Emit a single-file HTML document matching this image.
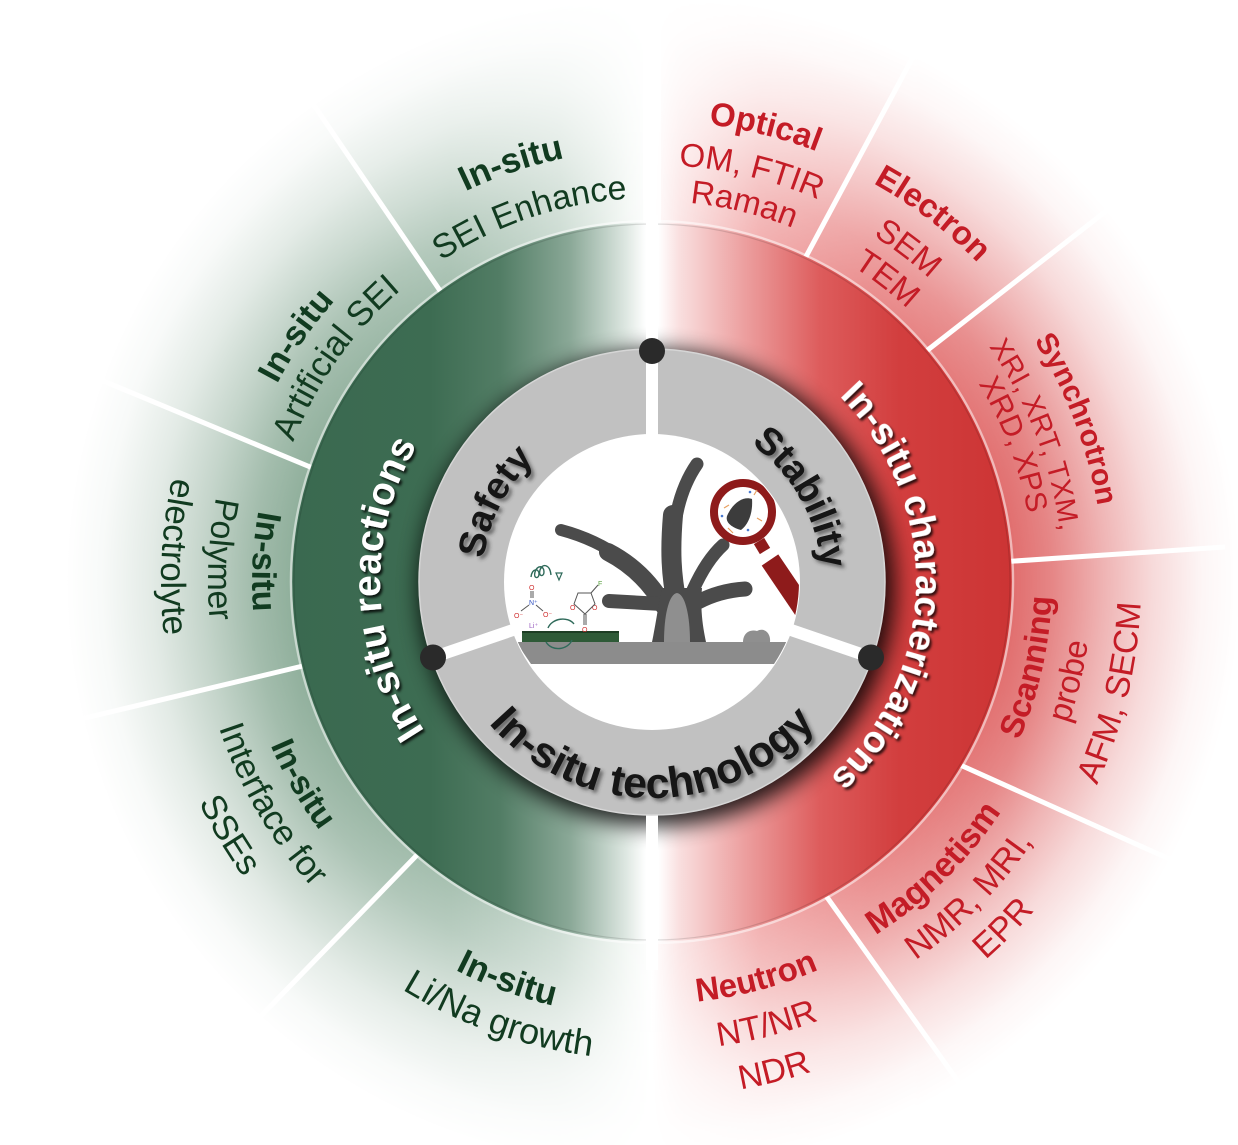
<!DOCTYPE html>
<html><head><meta charset="utf-8"><style>
html,body{margin:0;padding:0;background:#fff;}
svg{display:block;}
text{font-family:"Liberation Sans",Arial,Helvetica,sans-serif;}
.b{font-weight:bold;}
.g{fill:#113b20;}
.r{fill:#c41c26;}
.w{fill:#ffffff;font-weight:bold;}
.k{fill:#151515;font-weight:bold;}
</style></head><body>
<svg width="1238" height="1145" viewBox="0 0 1238 1145" xmlns="http://www.w3.org/2000/svg">
<defs>
 <linearGradient id="tint" gradientUnits="userSpaceOnUse" x1="40" y1="0" x2="1240" y2="0">
  <stop offset="0" stop-color="#86a792"/>
  <stop offset="0.217" stop-color="#8dad99"/>
  <stop offset="0.342" stop-color="#a5bfaf"/>
  <stop offset="0.433" stop-color="#cddcd3"/>
  <stop offset="0.49" stop-color="#f4f8f5"/>
  <stop offset="0.51" stop-color="#ffffff"/>
  <stop offset="0.533" stop-color="#fbe6e6"/>
  <stop offset="0.6" stop-color="#f2b0b0"/>
  <stop offset="0.692" stop-color="#e98a8a"/>
  <stop offset="0.808" stop-color="#e06a6a"/>
  <stop offset="1" stop-color="#dc5e5e"/>
 </linearGradient>
 <radialGradient id="fade" gradientUnits="userSpaceOnUse" cx="652" cy="582" r="600">
  <stop offset="0.59" stop-color="#fff" stop-opacity="1"/>
  <stop offset="0.667" stop-color="#fff" stop-opacity="0.8"/>
  <stop offset="0.75" stop-color="#fff" stop-opacity="0.5"/>
  <stop offset="0.833" stop-color="#fff" stop-opacity="0.24"/>
  <stop offset="0.917" stop-color="#fff" stop-opacity="0.06"/>
  <stop offset="0.98" stop-color="#fff" stop-opacity="0"/>
 </radialGradient>
 <mask id="fm" maskUnits="userSpaceOnUse" x="0" y="0" width="1238" height="1145">
  <rect x="0" y="0" width="1238" height="1145" fill="url(#fade)"/>
 </mask>
 <linearGradient id="ring" gradientUnits="userSpaceOnUse" x1="290" y1="0" x2="1015" y2="0">
  <stop offset="0" stop-color="#3a6950"/>
  <stop offset="0.193" stop-color="#3d6c52"/>
  <stop offset="0.29" stop-color="#527d65"/>
  <stop offset="0.386" stop-color="#8aa897"/>
  <stop offset="0.462" stop-color="#dce6e0"/>
  <stop offset="0.491" stop-color="#ffffff"/>
  <stop offset="0.508" stop-color="#ffffff"/>
  <stop offset="0.538" stop-color="#f9dede"/>
  <stop offset="0.621" stop-color="#eda3a3"/>
  <stop offset="0.731" stop-color="#dd5c5c"/>
  <stop offset="0.841" stop-color="#d23e3e"/>
  <stop offset="1" stop-color="#cc3434"/>
 </linearGradient>
 <clipPath id="ringclip"><circle cx="652" cy="582" r="360"/></clipPath>
 <clipPath id="ic"><circle cx="652" cy="582" r="147"/></clipPath>
 <filter id="blur" x="-20%" y="-20%" width="140%" height="140%"><feGaussianBlur stdDeviation="11"/></filter>
 <filter id="tsh" x="-10%" y="-10%" width="130%" height="130%"><feDropShadow dx="2" dy="2.5" stdDeviation="1.3" flood-color="#000" flood-opacity="0.8"/></filter>
 <filter id="gsh" x="-10%" y="-10%" width="130%" height="130%"><feDropShadow dx="3" dy="3" stdDeviation="1.8" flood-color="#333" flood-opacity="0.6"/></filter>

 <path id="t170" d="M482,582 A170,170 0 0 1 822,582"/>
 <path id="t272" d="M380,582 A272,272 0 0 1 924,582"/>
 <path id="t264" d="M388,582 A264,264 0 0 1 916,582"/>
 <path id="t433" d="M219,582 A433,433 0 0 1 1085,582"/>
 <path id="t384" d="M268,582 A384,384 0 0 1 1036,582"/>
 <path id="t424" d="M228,582 A424,424 0 0 1 1076,582"/>
 <path id="t385" d="M267,582 A385,385 0 0 1 1037,582"/>
 <path id="t461" d="M191,582 A461,461 0 0 1 1113,582"/>
 <path id="t417" d="M235,582 A417,417 0 0 1 1069,582"/>
 <path id="t381" d="M271,582 A381,381 0 0 1 1033,582"/>
 <path id="t456" d="M196,582 A456,456 0 0 1 1108,582"/>
 <path id="t411" d="M241,582 A411,411 0 0 1 1063,582"/>
 <path id="t374" d="M278,582 A374,374 0 0 1 1026,582"/>
 <path id="t452" d="M200,582 A452,452 0 0 1 1104,582"/>
 <path id="t382" d="M270,582 A382,382 0 0 1 1034,582"/>
 <path id="b216" d="M436,582 A216,216 0 0 0 868,582"/>
 <path id="b400" d="M252,582 A400,400 0 0 0 1052,582"/>
 <path id="b444" d="M208,582 A444,444 0 0 0 1096,582"/>
 <path id="b491" d="M161,582 A491,491 0 0 0 1143,582"/>
 <path id="b415" d="M237,582 A415,415 0 0 0 1067,582"/>
 <path id="b457" d="M195,582 A457,457 0 0 0 1109,582"/>
 <path id="b504" d="M148,582 A504,504 0 0 0 1156,582"/>
 <path id="b435" d="M217,582 A435,435 0 0 0 1087,582"/>
 <path id="b478" d="M174,582 A478,478 0 0 0 1130,582"/>
 <path id="b440" d="M212,582 A440,440 0 0 0 1092,582"/>
 <path id="b489" d="M163,582 A489,489 0 0 0 1141,582"/>
 <path id="b418" d="M234,582 A418,418 0 0 0 1070,582"/>
 <path id="b461" d="M191,582 A461,461 0 0 0 1113,582"/>
 <path id="b422" d="M230,582 A422,422 0 0 0 1074,582"/>
 <path id="b469" d="M183,582 A469,469 0 0 0 1121,582"/>
 <path id="b515" d="M137,582 A515,515 0 0 0 1167,582"/>
</defs>

<rect x="0" y="0" width="1238" height="1145" fill="#fff"/>

<g mask="url(#fm)"><rect x="0" y="0" width="1238" height="1145" fill="url(#tint)"/></g>
<rect x="643" y="0" width="18" height="240" fill="#fff" opacity="0.8"/>

<g stroke="#ffffff" stroke-width="5" fill="none">
 <line x1="445" y1="298" x2="290" y2="70"/>
 <line x1="315" y1="469" x2="60" y2="363"/>
 <line x1="307" y1="665" x2="60" y2="724"/>
 <line x1="417" y1="855" x2="228" y2="1050"/>
 <line x1="802" y1="264" x2="920" y2="44"/>
 <line x1="920" y1="356" x2="1110" y2="208"/>
 <line x1="1000" y1="562" x2="1225" y2="547"/>
 <line x1="958" y1="764" x2="1185" y2="866"/>
 <line x1="824" y1="893" x2="982" y2="1115"/>
</g>

<circle cx="652" cy="582" r="360" fill="url(#ring)"/>
<circle cx="652" cy="582" r="361" fill="none" stroke="#fff" stroke-opacity="0.5" stroke-width="2.5"/>
<circle cx="652" cy="582" r="358" fill="none" stroke="#000" stroke-opacity="0.12" stroke-width="1.2"/>
<g clip-path="url(#ringclip)">
 <circle cx="657" cy="588" r="238" fill="#000" opacity="0.85" filter="url(#blur)"/>
</g>
<rect x="646" y="215" width="12" height="140" fill="#fff"/>
<rect x="646" y="810" width="12" height="160" fill="#fff"/>

<circle cx="652" cy="582" r="233" fill="#c1c1c1" stroke="#d6d6d6" stroke-width="1.5"/>
<circle cx="652" cy="582" r="148" fill="#ffffff"/>
<g stroke="#fff" stroke-width="12">
 <line x1="652" y1="440" x2="652" y2="350"/>
 <line x1="784" y1="627.6" x2="871.4" y2="657.5"/>
 <line x1="520" y1="627.6" x2="432.6" y2="657.5"/>
</g>
<g fill="#2a2a2a">
 <circle cx="652" cy="351" r="13"/>
 <circle cx="433" cy="657.5" r="13"/>
 <circle cx="871" cy="657.5" r="13"/>
</g>

<g clip-path="url(#ic)">
 <polygon points="516,642 792,642 779,664 531,664" fill="#8c8c8c"/>
 <rect x="522" y="632" width="97" height="10" fill="#2e5a37"/>
 <rect x="522" y="631" width="97" height="2" fill="#1d3d24"/>
 <g fill="none" stroke="#4b4b4b" stroke-linecap="round">
  <path d="M662,600 C645,572 610,543 561,530" stroke-width="12"/>
  <path d="M664,606 C652,585 635,566 608,552" stroke-width="18"/>
  <path d="M677,598 C668,555 672,500 697,464" stroke-width="13"/>
  <path d="M677,604 C671,575 670,550 673,515" stroke-width="20"/>
  <path d="M662,604 L609,601" stroke-width="14"/>
  <path d="M693,590 C702,570 712,555 723,545" stroke-width="13"/>
  <path d="M698,602 C715,593 730,590 745,589" stroke-width="15"/>
 </g>
 <path d="M652,642 C657,618 659,600 662,588 L702,588 C700,610 703,628 706,642 Z" fill="#4b4b4b"/>
 <path d="M664,642 C664,615 669,594 677,593 C685,594 690,615 690,642 Z" fill="#8f8f8f"/>
 <path d="M743,642 C743,633 750,629 757,631 C764,627 771,633 770,642 Z" fill="#8f8f8f"/>
 <path d="M770,560 L812,622" stroke="#8e1b1b" stroke-width="20"/>
 <path d="M759,541 L765,551" stroke="#8e1b1b" stroke-width="12"/>
 <circle cx="743" cy="512" r="29" fill="#fff" stroke="#8e1b1b" stroke-width="8"/>
 <path d="M727,516 C733,502 744,496 752,499 C753,512 749,524 741,530 C733,528 725,523 727,516 Z" fill="#3c3c3c"/>
 <g stroke="#e8a060" stroke-width="1.2">
  <line x1="724" y1="508" x2="729" y2="505"/><line x1="728" y1="528" x2="733" y2="533"/>
  <line x1="754" y1="495" x2="757" y2="490"/><line x1="757" y1="518" x2="762" y2="521"/>
 </g>
 <g fill="#4a7ad0"><circle cx="722" cy="516" r="1.3"/><circle cx="748" cy="530" r="1.3"/><circle cx="750" cy="492" r="1.3"/></g>
 <path d="M531,577 c1,-9 8,-9 8,-3 c0,5 -6,5 -4,-2 c2,-7 9,-7 9,0 c0,5 -6,5 -4,-2 c2,-7 10,-6 11,5" fill="none" stroke="#2f6a5a" stroke-width="1.4"/>
 <polygon points="556,573 562,573 559,580" fill="none" stroke="#2f6a5a" stroke-width="1.2"/>
 <g font-size="7" font-family="Liberation Sans, Arial, sans-serif">
  <text x="529" y="590" fill="#d03030">O</text>
  <text x="529" y="605" fill="#3050c0">N⁺</text>
  <text x="514" y="618" fill="#d03030">O⁻</text>
  <text x="543" y="617" fill="#d03030">O⁻</text>
  <text x="529" y="628" fill="#9a5fc0">Li⁺</text>
  <text x="570" y="610" fill="#d03030">O</text>
  <text x="592" y="610" fill="#d03030">O</text>
  <text x="582" y="632" fill="#d03030">O</text>
  <text x="598" y="586" fill="#5aa040">F</text>
 </g>
 <g stroke="#555" stroke-width="1" fill="none">
  <line x1="531" y1="591" x2="531" y2="598"/><line x1="533" y1="591" x2="533" y2="598"/>
  <line x1="529" y1="605" x2="521" y2="611"/><line x1="536" y1="605" x2="543" y2="611"/>
  <path d="M574,604 L578,593 L591,593 L595,604 L585,614 Z"/>
  <line x1="591" y1="593" x2="598" y2="585"/>
  <line x1="584" y1="614" x2="584" y2="625"/><line x1="586" y1="614" x2="586" y2="625"/>
 </g>
 <g fill="none" stroke="#2f6a5a" stroke-width="1.4">
  <path d="M548,628 C552,618 568,616 574,624"/>
  <path d="M572,640 C568,650 552,652 546,642"/>
 </g>
</g>

<g filter="url(#gsh)">
 <text class="k" font-size="38" text-anchor="middle" transform="rotate(-63 652 582)"><textPath href="#t170" startOffset="50%">Safety</textPath></text>
 <text class="k" font-size="38" text-anchor="middle" transform="rotate(60.5 652 582)"><textPath href="#t170" startOffset="50%">Stability</textPath></text>
 <text class="k" font-size="43" text-anchor="middle" transform="rotate(0 652 582)"><textPath href="#b216" startOffset="50%">In-situ technology</textPath></text>
</g>

<g filter="url(#tsh)">
 <text class="w" font-size="39" text-anchor="middle" transform="rotate(-91.5 652 582)"><textPath href="#t272" startOffset="50%">In-situ reactions</textPath></text>
 <text class="w" font-size="37" text-anchor="middle" transform="rotate(91.4 652 582)"><textPath href="#t264" startOffset="50%">In-situ characterizations</textPath></text>
</g>

<g class="g" text-anchor="middle">
 <text class="b" font-size="35" transform="rotate(-18.6 652 582)"><textPath href="#t433" startOffset="50%">In-situ</textPath></text>
 <text font-size="34" transform="rotate(-18.5 652 582)"><textPath href="#t384" startOffset="50%">SEI Enhance</textPath></text>

 <text class="b" font-size="34" transform="rotate(-55.3 652 582)"><textPath href="#t424" startOffset="50%">In-situ</textPath></text>
 <text font-size="35" transform="rotate(-54.7 652 582)"><textPath href="#t385" startOffset="50%">Artificial SEI</textPath></text>

 <text class="b" font-size="34" transform="rotate(93 652 582)"><textPath href="#b400" startOffset="50%">In-situ</textPath></text>
 <text font-size="34" transform="rotate(93 652 582)"><textPath href="#b444" startOffset="50%">Polymer</textPath></text>
 <text font-size="35" transform="rotate(93 652 582)"><textPath href="#b491" startOffset="50%">electrolyte</textPath></text>

 <text class="b" font-size="33" transform="rotate(60 652 582)"><textPath href="#b415" startOffset="50%">In-situ</textPath></text>
 <text font-size="35" transform="rotate(59.7 652 582)"><textPath href="#b457" startOffset="50%">Interface for</textPath></text>
 <text font-size="35" transform="rotate(59.1 652 582)"><textPath href="#b504" startOffset="50%">SSEs</textPath></text>

 <text class="b" font-size="35" transform="rotate(20 652 582)"><textPath href="#b435" startOffset="50%">In-situ</textPath></text>
 <text font-size="36" transform="rotate(19.4 652 582)"><textPath href="#b478" startOffset="50%">Li/Na growth</textPath></text>
</g>

<g class="r" text-anchor="middle">
 <text class="b" font-size="33" transform="rotate(14 652 582)"><textPath href="#t461" startOffset="50%">Optical</textPath></text>
 <text font-size="33" transform="rotate(13.6 652 582)"><textPath href="#t417" startOffset="50%">OM, FTIR</textPath></text>
 <text font-size="33" transform="rotate(13.7 652 582)"><textPath href="#t381" startOffset="50%">Raman</textPath></text>

 <text class="b" font-size="33" transform="rotate(37.3 652 582)"><textPath href="#t456" startOffset="50%">Electron</textPath></text>
 <text font-size="33" transform="rotate(37.5 652 582)"><textPath href="#t411" startOffset="50%">SEM</textPath></text>
 <text font-size="33" transform="rotate(37.8 652 582)"><textPath href="#t374" startOffset="50%">TEM</textPath></text>

 <text class="b" font-size="30" transform="rotate(69 652 582)"><textPath href="#t452" startOffset="50%">Synchrotron</textPath></text>
 <text font-size="28.5" transform="rotate(69 652 582)"><textPath href="#t411" startOffset="50%">XRI, XRT, TXM,</textPath></text>
 <text font-size="30" transform="rotate(69.2 652 582)"><textPath href="#t382" startOffset="50%">XRD, XPS</textPath></text>

 <text class="b" font-size="33" transform="rotate(-77.3 652 582)"><textPath href="#b400" startOffset="50%">Scanning</textPath></text>
 <text font-size="33" transform="rotate(-76.7 652 582)"><textPath href="#b440" startOffset="50%">probe</textPath></text>
 <text font-size="34" transform="rotate(-76.5 652 582)"><textPath href="#b489" startOffset="50%">AFM, SECM</textPath></text>

 <text class="b" font-size="34" transform="rotate(-44.5 652 582)"><textPath href="#b418" startOffset="50%">Magnetism</textPath></text>
 <text font-size="34" transform="rotate(-45.3 652 582)"><textPath href="#b461" startOffset="50%">NMR, MRI,</textPath></text>
 <text font-size="34" transform="rotate(-45.4 652 582)"><textPath href="#b504" startOffset="50%">EPR</textPath></text>

 <text class="b" font-size="33" transform="rotate(-14.7 652 582)"><textPath href="#b422" startOffset="50%">Neutron</textPath></text>
 <text font-size="34" transform="rotate(-14.5 652 582)"><textPath href="#b469" startOffset="50%">NT/NR</textPath></text>
 <text font-size="34" transform="rotate(-14 652 582)"><textPath href="#b515" startOffset="50%">NDR</textPath></text>
</g>
</svg>
</body></html>
